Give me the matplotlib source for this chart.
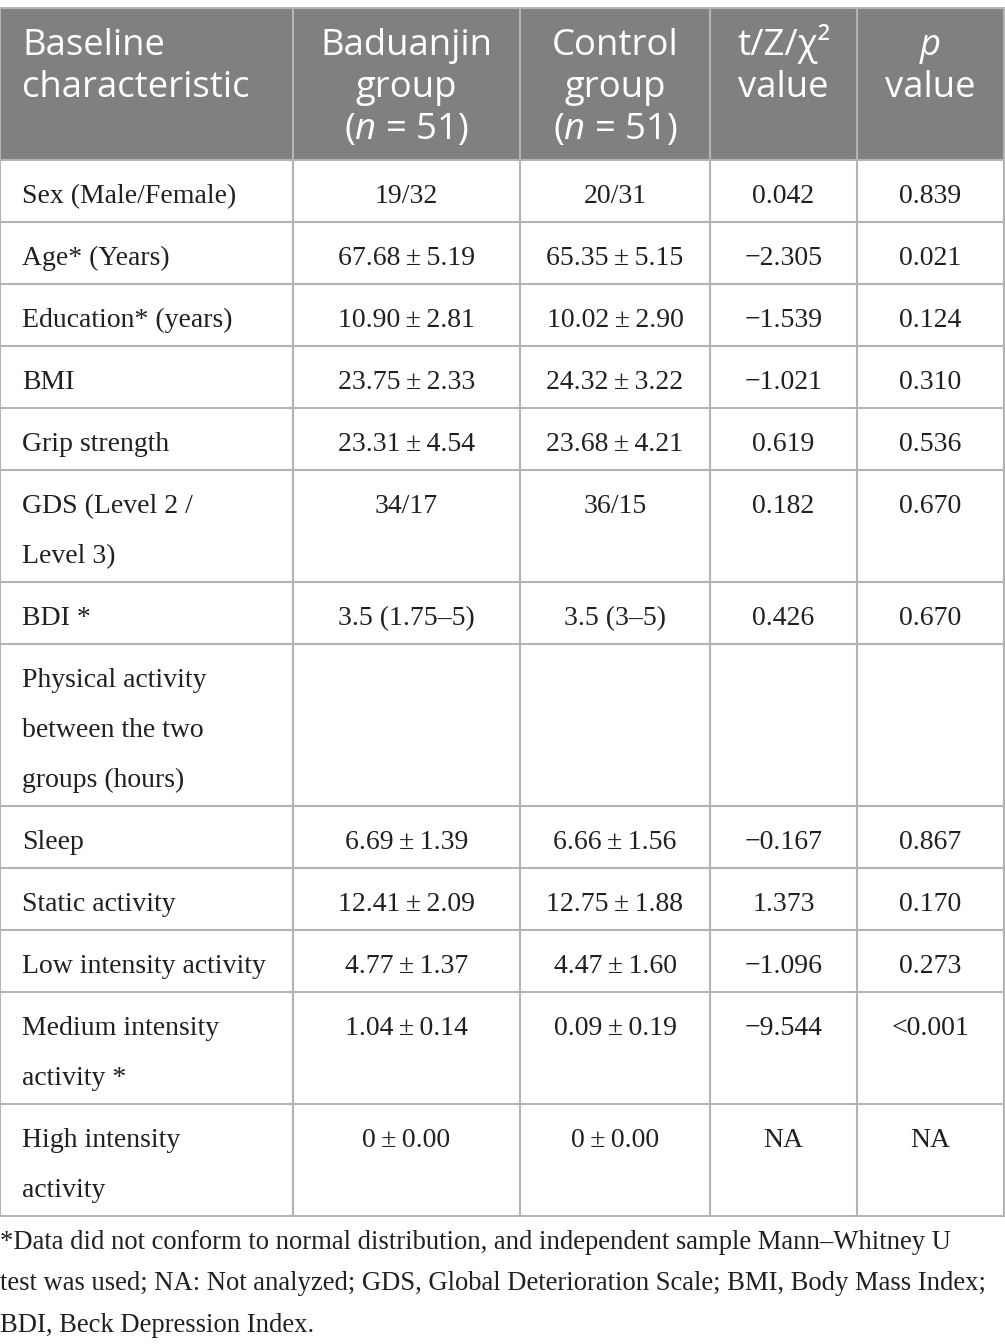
import numpy as np
import matplotlib
matplotlib.use("Agg")
import matplotlib.pyplot as plt

plt.rcParams['mathtext.fontset'] = 'custom'
plt.rcParams['mathtext.rm'] = 'Open Sans'
plt.rcParams['mathtext.it'] = 'Open Sans:italic'

# Table data
headers = ["Baseline\ncharacteristic", "Baduanjin\ngroup\n($n$ = 51)",
           "Control\ngroup\n($n$ = 51)", "t/Z/χ²\nvalue", "$p$\nvalue"]
labels = ["Sex (Male/Female)", "Age* (Years)", "Education* (years)", "BMI",
          "Grip strength", "GDS (Level 2 /\nLevel 3)", "BDI *",
          "Physical activity\nbetween the two\ngroups (hours)", "Sleep",
          "Static activity", "Low intensity activity",
          "Medium intensity\nactivity *", "High intensity\nactivity"]
pm = "\u2009±\u2009"
baduanjin = ["19/32", "67.68" + pm + "5.19", "10.90" + pm + "2.81",
             "23.75" + pm + "2.33", "23.31" + pm + "4.54", "34/17",
             "3.5 (1.75–5)", "", "6.69" + pm + "1.39", "12.41" + pm + "2.09",
             "4.77" + pm + "1.37", "1.04" + pm + "0.14", "0" + pm + "0.00"]
control = ["20/31", "65.35" + pm + "5.15", "10.02" + pm + "2.90",
           "24.32" + pm + "3.22", "23.68" + pm + "4.21", "36/15",
           "3.5 (3–5)", "", "6.66" + pm + "1.56", "12.75" + pm + "1.88",
           "4.47" + pm + "1.60", "0.09" + pm + "0.19", "0" + pm + "0.00"]
stat = ["0.042", "−2.305", "−1.539", "−1.021", "0.619", "0.182", "0.426", "",
        "−0.167", "1.373", "−1.096", "−9.544", "NA"]
pval = ["0.839", "0.021", "0.124", "0.310", "0.536", "0.670", "0.670", "",
        "0.867", "0.170", "0.273", "<0.001", "NA"]
footnote = ("*Data did not conform to normal distribution, and independent sample Mann–Whitney U\n"
            "test was used; NA: Not analyzed; GDS, Global Deterioration Scale; BMI, Body Mass Index;\n"
            "BDI, Beck Depression Index.")

# Layout (pixels)
W, H = 1005, 1344
col_edges = [0, 293, 520, 710, 857, 1004]
header_top, header_bot = 9, 160
line_h = 50
grid_c = "#b3b3b3"
text_c = "#231f20"
serif = ['Liberation Serif', 'DejaVu Serif']

fig = plt.figure(figsize=(W / 100, H / 100), dpi=100)
ax = fig.add_axes([0, 0, 1, 1])
ax.set_xlim(0, W)
ax.set_ylim(H, 0)
ax.axis('off')

# header
ax.add_patch(plt.Rectangle((0, header_top), col_edges[-1], header_bot - header_top,
                           facecolor="#808080", edgecolor="none"))
ax.plot([0, col_edges[-1]], [header_top - 1, header_top - 1], color=grid_c, lw=1.5)
for i, h in enumerate(headers):
    for j, line in enumerate(h.split("\n")):
        if i == 0:
            x, ha = 22, 'left'
        else:
            x, ha = (col_edges[i] + col_edges[i + 1]) / 2, 'center'
        ax.text(x, 55 + j * 42, line, ha=ha, va='baseline', color='white',
                fontsize=26.3, family='Open Sans')

# body rows
tops = [header_bot]
for lab in labels:
    tops.append(tops[-1] + 62 + line_h * (lab.count("\n")))

for r, lab in enumerate(labels):
    y0 = tops[r] + 43
    for j, line in enumerate(lab.split("\n")):
        ax.text(22, y0 + j * line_h, line, ha='left', va='baseline',
                color=text_c, fontsize=20, family=serif)
    for c, col in enumerate([baduanjin, control, stat, pval]):
        xc = (col_edges[c + 1] + col_edges[c + 2]) / 2
        ax.text(xc, y0, col[r], ha='center', va='baseline', color=text_c,
                fontsize=20, family=serif)

# grid lines
for t in tops:
    ax.plot([0, col_edges[-1]], [t, t], color=grid_c, lw=1.5)
for x in col_edges:
    ax.plot([x, x], [header_top, tops[-1]], color=grid_c, lw=1.5)

# footnote
for j, line in enumerate(footnote.split("\n")):
    ax.text(0, 1249 + j * 41.5, line, ha='left', va='baseline', color=text_c,
            fontsize=19.2, family=serif)

fig.savefig("out.png", dpi=100)
